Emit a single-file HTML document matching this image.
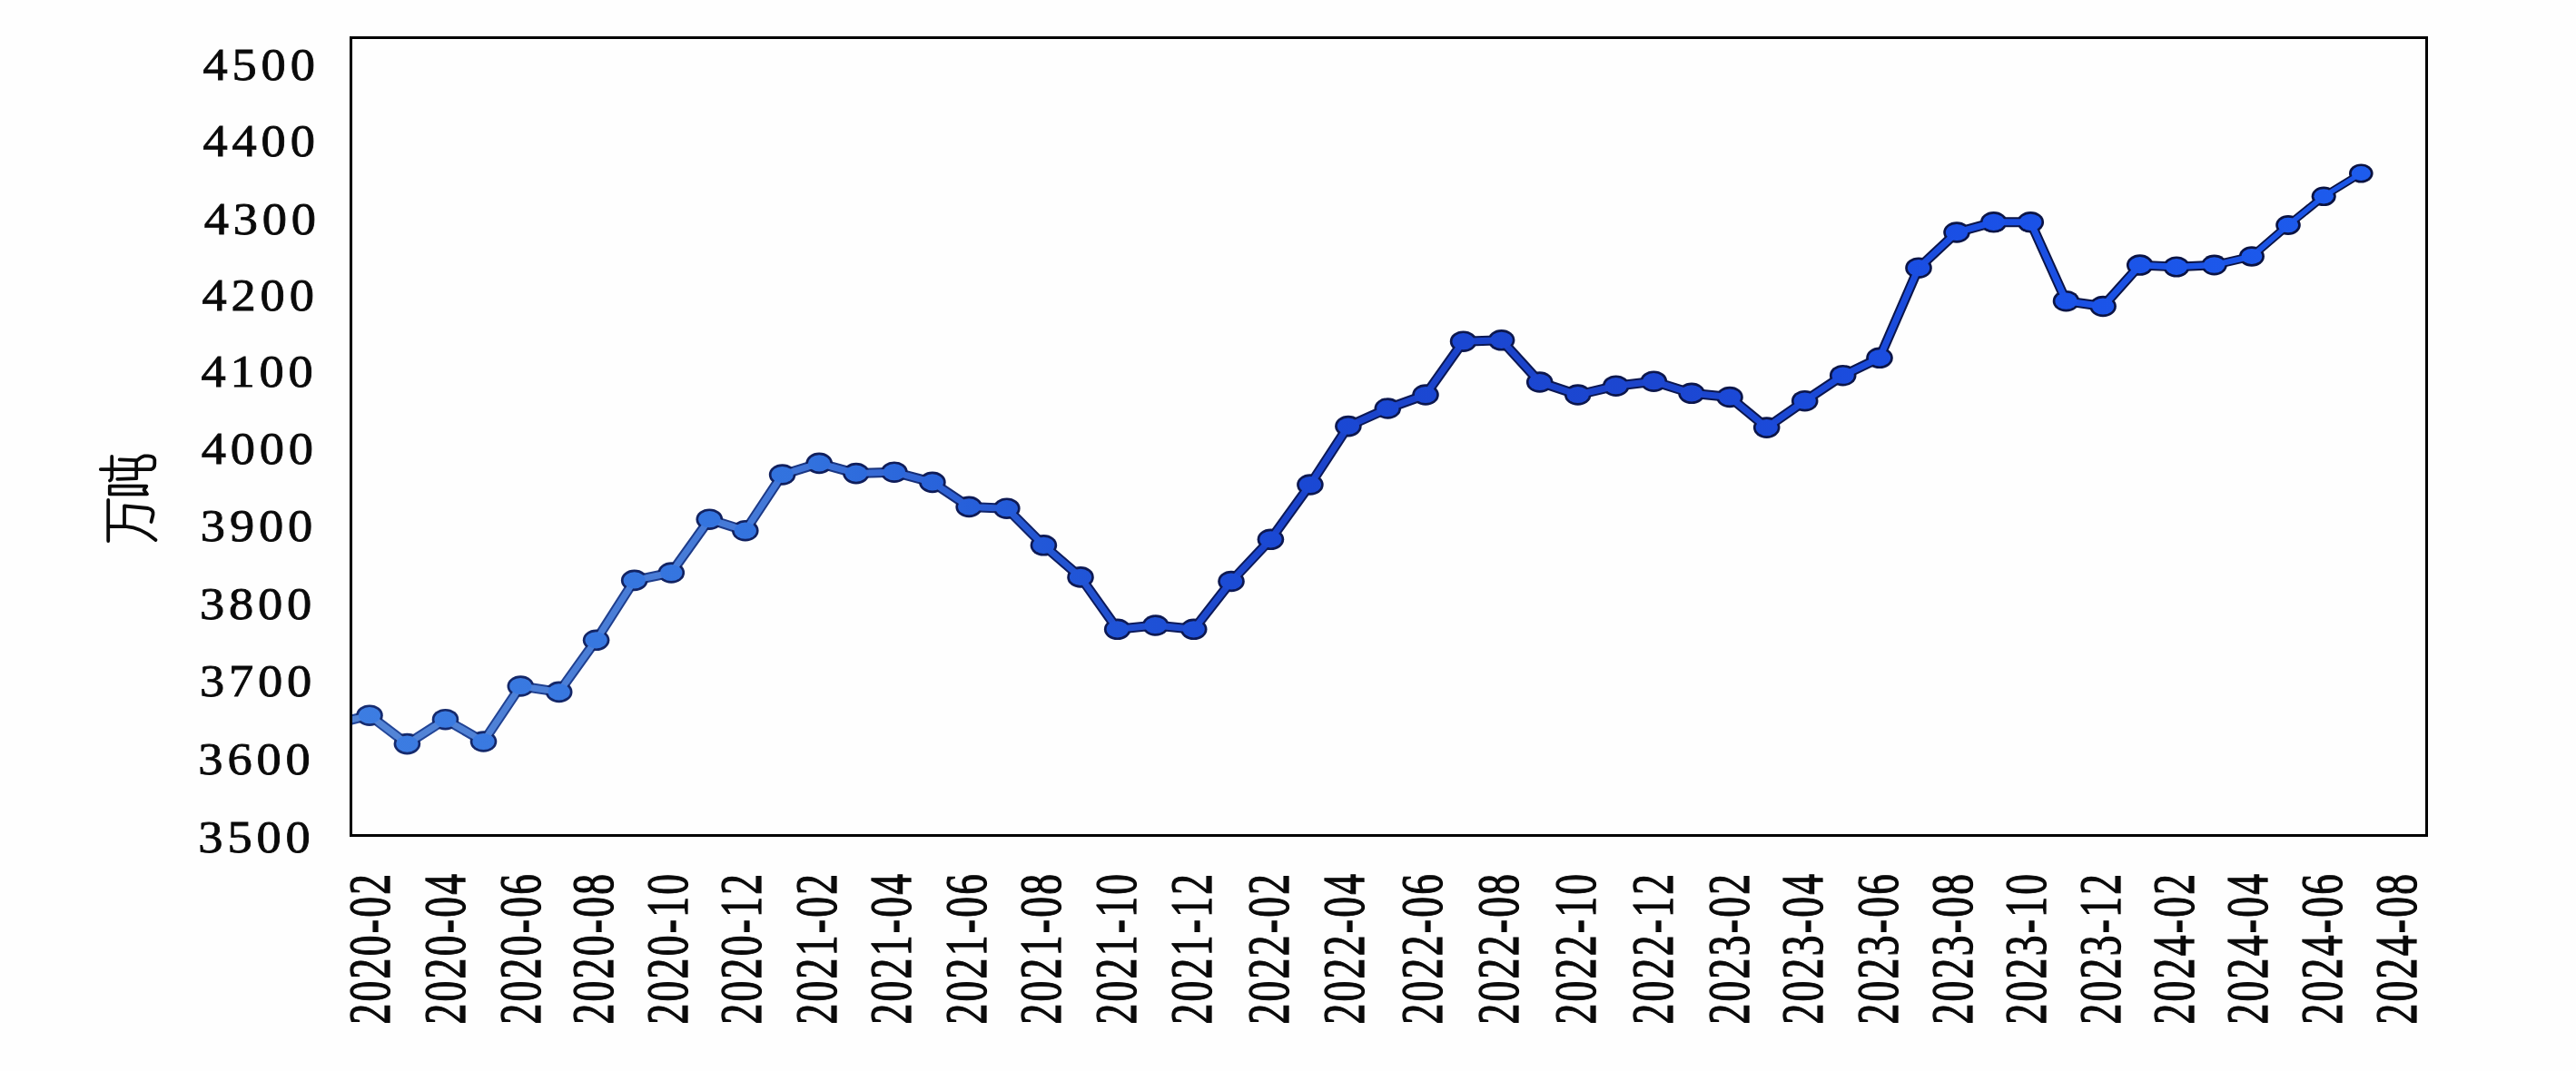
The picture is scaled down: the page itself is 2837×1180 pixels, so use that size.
<!DOCTYPE html>
<html><head><meta charset="utf-8"><style>
html,body{margin:0;padding:0;background:#fefefe;}
body{width:2837px;height:1180px;overflow:hidden;}
svg{display:block;}
text{font-family:"Liberation Serif",serif;fill:#0a0a0a;stroke:#0a0a0a;stroke-width:0.8px;}
</style></head><body>
<svg width="2837" height="1180" viewBox="0 0 2837 1180">
<defs>
<linearGradient id="gf" gradientUnits="userSpaceOnUse" x1="380" y1="0" x2="2680" y2="0">
<stop offset="0" stop-color="#3d7de2"/><stop offset="0.22" stop-color="#3272de"/><stop offset="0.33" stop-color="#2258d8"/><stop offset="0.45" stop-color="#1a48d4"/><stop offset="0.62" stop-color="#1c46d0"/><stop offset="0.78" stop-color="#1a50e6"/><stop offset="1" stop-color="#1e5eee"/>
</linearGradient>
<linearGradient id="gl" gradientUnits="userSpaceOnUse" x1="380" y1="0" x2="2680" y2="0"><stop offset="0" stop-color="#5586d6"/><stop offset="0.2" stop-color="#4479d8"/><stop offset="0.33" stop-color="#2456d2"/><stop offset="0.45" stop-color="#1b44cc"/><stop offset="0.62" stop-color="#1c44ca"/><stop offset="0.78" stop-color="#1a4ee2"/><stop offset="1" stop-color="#1c58e8"/></linearGradient>
<linearGradient id="gd" gradientUnits="userSpaceOnUse" x1="380" y1="0" x2="2680" y2="0"><stop offset="0" stop-color="#24489a"/><stop offset="0.25" stop-color="#1a3580"/><stop offset="0.35" stop-color="#0c1a5c"/><stop offset="1" stop-color="#0a1240"/></linearGradient>
<linearGradient id="gm" gradientUnits="userSpaceOnUse" x1="380" y1="0" x2="2680" y2="0"><stop offset="0" stop-color="#162c70"/><stop offset="0.3" stop-color="#0e1a55"/><stop offset="1" stop-color="#0a1240"/></linearGradient>
<clipPath id="cp"><rect x="387" y="42" width="2285" height="878"/></clipPath>
</defs>
<rect x="0" y="0" width="2837" height="1180" fill="#fefefe"/>

<g clip-path="url(#cp)">
<line x1="366" y1="798" x2="407" y2="788.2" stroke="url(#gd)" stroke-width="11.00" stroke-linecap="round"/>
<line x1="407" y1="788.2" x2="448.4" y2="819.6" stroke="url(#gd)" stroke-width="11.00" stroke-linecap="round"/>
<line x1="448.4" y1="819.6" x2="490.5" y2="792.7" stroke="url(#gd)" stroke-width="11.00" stroke-linecap="round"/>
<line x1="490.5" y1="792.7" x2="532.5" y2="817" stroke="url(#gd)" stroke-width="11.00" stroke-linecap="round"/>
<line x1="532.5" y1="817" x2="573.3" y2="756" stroke="url(#gd)" stroke-width="11.00" stroke-linecap="round"/>
<line x1="573.3" y1="756" x2="615.7" y2="762.4" stroke="url(#gd)" stroke-width="11.00" stroke-linecap="round"/>
<line x1="615.7" y1="762.4" x2="656.6" y2="705.3" stroke="url(#gd)" stroke-width="11.00" stroke-linecap="round"/>
<line x1="656.6" y1="705.3" x2="698.7" y2="639.4" stroke="url(#gd)" stroke-width="11.00" stroke-linecap="round"/>
<line x1="698.7" y1="639.4" x2="739.3" y2="631" stroke="url(#gd)" stroke-width="11.00" stroke-linecap="round"/>
<line x1="739.3" y1="631" x2="781.3" y2="572.2" stroke="url(#gd)" stroke-width="11.00" stroke-linecap="round"/>
<line x1="781.3" y1="572.2" x2="820.8" y2="584.7" stroke="url(#gd)" stroke-width="11.00" stroke-linecap="round"/>
<line x1="820.8" y1="584.7" x2="861.6" y2="523" stroke="url(#gd)" stroke-width="11.00" stroke-linecap="round"/>
<line x1="861.6" y1="523" x2="902.2" y2="510.4" stroke="url(#gd)" stroke-width="11.00" stroke-linecap="round"/>
<line x1="902.2" y1="510.4" x2="942.9" y2="521.6" stroke="url(#gd)" stroke-width="11.00" stroke-linecap="round"/>
<line x1="942.9" y1="521.6" x2="984.9" y2="520.2" stroke="url(#gd)" stroke-width="11.00" stroke-linecap="round"/>
<line x1="984.9" y1="520.2" x2="1026.9" y2="531.4" stroke="url(#gd)" stroke-width="11.00" stroke-linecap="round"/>
<line x1="1026.9" y1="531.4" x2="1067.2" y2="558.4" stroke="url(#gd)" stroke-width="11.00" stroke-linecap="round"/>
<line x1="1067.2" y1="558.4" x2="1108.8" y2="560.2" stroke="url(#gd)" stroke-width="11.00" stroke-linecap="round"/>
<line x1="1108.8" y1="560.2" x2="1149.4" y2="600.8" stroke="url(#gd)" stroke-width="11.00" stroke-linecap="round"/>
<line x1="1149.4" y1="600.8" x2="1190" y2="635.9" stroke="url(#gd)" stroke-width="11.00" stroke-linecap="round"/>
<line x1="1190" y1="635.9" x2="1230.7" y2="693.3" stroke="url(#gd)" stroke-width="11.00" stroke-linecap="round"/>
<line x1="1230.7" y1="693.3" x2="1272.7" y2="689" stroke="url(#gd)" stroke-width="11.00" stroke-linecap="round"/>
<line x1="1272.7" y1="689" x2="1314.7" y2="693.3" stroke="url(#gd)" stroke-width="11.00" stroke-linecap="round"/>
<line x1="1314.7" y1="693.3" x2="1356" y2="640.5" stroke="url(#gd)" stroke-width="11.00" stroke-linecap="round"/>
<line x1="1356" y1="640.5" x2="1399.4" y2="594.3" stroke="url(#gd)" stroke-width="11.00" stroke-linecap="round"/>
<line x1="1399.4" y1="594.3" x2="1442.9" y2="534" stroke="url(#gd)" stroke-width="11.00" stroke-linecap="round"/>
<line x1="1442.9" y1="534" x2="1484.9" y2="469.6" stroke="url(#gd)" stroke-width="11.00" stroke-linecap="round"/>
<line x1="1484.9" y1="469.6" x2="1528.3" y2="450" stroke="url(#gd)" stroke-width="11.00" stroke-linecap="round"/>
<line x1="1528.3" y1="450" x2="1570" y2="435" stroke="url(#gd)" stroke-width="11.00" stroke-linecap="round"/>
<line x1="1570" y1="435" x2="1611.6" y2="376.2" stroke="url(#gd)" stroke-width="11.00" stroke-linecap="round"/>
<line x1="1611.6" y1="376.2" x2="1653.6" y2="374.8" stroke="url(#gd)" stroke-width="11.00" stroke-linecap="round"/>
<line x1="1653.6" y1="374.8" x2="1695.7" y2="421" stroke="url(#gd)" stroke-width="11.00" stroke-linecap="round"/>
<line x1="1695.7" y1="421" x2="1737.7" y2="435" stroke="url(#gd)" stroke-width="11.00" stroke-linecap="round"/>
<line x1="1737.7" y1="435" x2="1779.7" y2="425.2" stroke="url(#gd)" stroke-width="11.00" stroke-linecap="round"/>
<line x1="1779.7" y1="425.2" x2="1821.3" y2="420.2" stroke="url(#gd)" stroke-width="11.00" stroke-linecap="round"/>
<line x1="1821.3" y1="420.2" x2="1863" y2="433.3" stroke="url(#gd)" stroke-width="11.00" stroke-linecap="round"/>
<line x1="1863" y1="433.3" x2="1905" y2="437.5" stroke="url(#gd)" stroke-width="11.00" stroke-linecap="round"/>
<line x1="1905" y1="437.5" x2="1945.7" y2="471.1" stroke="url(#gd)" stroke-width="11.00" stroke-linecap="round"/>
<line x1="1945.7" y1="471.1" x2="1987.7" y2="441.7" stroke="url(#gd)" stroke-width="11.00" stroke-linecap="round"/>
<line x1="1987.7" y1="441.7" x2="2029.7" y2="413.7" stroke="url(#gd)" stroke-width="11.00" stroke-linecap="round"/>
<line x1="2029.7" y1="413.7" x2="2070" y2="394.3" stroke="url(#gd)" stroke-width="11.00" stroke-linecap="round"/>
<line x1="2070" y1="394.3" x2="2113" y2="295.2" stroke="url(#gd)" stroke-width="11.00" stroke-linecap="round"/>
<line x1="2113" y1="295.2" x2="2155" y2="256" stroke="url(#gd)" stroke-width="11.00" stroke-linecap="round"/>
<line x1="2155" y1="256" x2="2195.7" y2="244.8" stroke="url(#gd)" stroke-width="11.00" stroke-linecap="round"/>
<line x1="2195.7" y1="244.8" x2="2236.3" y2="244.8" stroke="url(#gd)" stroke-width="11.00" stroke-linecap="round"/>
<line x1="2236.3" y1="244.8" x2="2275.5" y2="331.7" stroke="url(#gd)" stroke-width="11.00" stroke-linecap="round"/>
<line x1="2275.5" y1="331.7" x2="2316.1" y2="337.5" stroke="url(#gd)" stroke-width="11.00" stroke-linecap="round"/>
<line x1="2316.1" y1="337.5" x2="2356.7" y2="292.1" stroke="url(#gd)" stroke-width="11.00" stroke-linecap="round"/>
<line x1="2356.7" y1="292.1" x2="2397" y2="294" stroke="url(#gd)" stroke-width="10.74" stroke-linecap="round"/>
<line x1="2397" y1="294" x2="2438.6" y2="292" stroke="url(#gd)" stroke-width="10.34" stroke-linecap="round"/>
<line x1="2438.6" y1="292" x2="2479.9" y2="282.5" stroke="url(#gd)" stroke-width="9.94" stroke-linecap="round"/>
<line x1="2479.9" y1="282.5" x2="2520" y2="248" stroke="url(#gd)" stroke-width="9.55" stroke-linecap="round"/>
<line x1="2520" y1="248" x2="2559.2" y2="216.3" stroke="url(#gd)" stroke-width="9.16" stroke-linecap="round"/>
<line x1="2559.2" y1="216.3" x2="2600.3" y2="191" stroke="url(#gd)" stroke-width="8.78" stroke-linecap="round"/>
<ellipse cx="407" cy="788.2" rx="14.80" ry="11.80" fill="url(#gm)"/>
<ellipse cx="448.4" cy="819.6" rx="14.80" ry="11.80" fill="url(#gm)"/>
<ellipse cx="490.5" cy="792.7" rx="14.80" ry="11.80" fill="url(#gm)"/>
<ellipse cx="532.5" cy="817" rx="14.80" ry="11.80" fill="url(#gm)"/>
<ellipse cx="573.3" cy="756" rx="14.80" ry="11.80" fill="url(#gm)"/>
<ellipse cx="615.7" cy="762.4" rx="14.80" ry="11.80" fill="url(#gm)"/>
<ellipse cx="656.6" cy="705.3" rx="14.80" ry="11.80" fill="url(#gm)"/>
<ellipse cx="698.7" cy="639.4" rx="14.80" ry="11.80" fill="url(#gm)"/>
<ellipse cx="739.3" cy="631" rx="14.80" ry="11.80" fill="url(#gm)"/>
<ellipse cx="781.3" cy="572.2" rx="14.80" ry="11.80" fill="url(#gm)"/>
<ellipse cx="820.8" cy="584.7" rx="14.80" ry="11.80" fill="url(#gm)"/>
<ellipse cx="861.6" cy="523" rx="14.80" ry="11.80" fill="url(#gm)"/>
<ellipse cx="902.2" cy="510.4" rx="14.80" ry="11.80" fill="url(#gm)"/>
<ellipse cx="942.9" cy="521.6" rx="14.80" ry="11.80" fill="url(#gm)"/>
<ellipse cx="984.9" cy="520.2" rx="14.80" ry="11.80" fill="url(#gm)"/>
<ellipse cx="1026.9" cy="531.4" rx="14.80" ry="11.80" fill="url(#gm)"/>
<ellipse cx="1067.2" cy="558.4" rx="14.80" ry="11.80" fill="url(#gm)"/>
<ellipse cx="1108.8" cy="560.2" rx="14.80" ry="11.80" fill="url(#gm)"/>
<ellipse cx="1149.4" cy="600.8" rx="14.80" ry="11.80" fill="url(#gm)"/>
<ellipse cx="1190" cy="635.9" rx="14.80" ry="11.80" fill="url(#gm)"/>
<ellipse cx="1230.7" cy="693.3" rx="14.80" ry="11.80" fill="url(#gm)"/>
<ellipse cx="1272.7" cy="689" rx="14.80" ry="11.80" fill="url(#gm)"/>
<ellipse cx="1314.7" cy="693.3" rx="14.80" ry="11.80" fill="url(#gm)"/>
<ellipse cx="1356" cy="640.5" rx="14.80" ry="11.80" fill="url(#gm)"/>
<ellipse cx="1399.4" cy="594.3" rx="14.80" ry="11.80" fill="url(#gm)"/>
<ellipse cx="1442.9" cy="534" rx="14.80" ry="11.80" fill="url(#gm)"/>
<ellipse cx="1484.9" cy="469.6" rx="14.80" ry="11.80" fill="url(#gm)"/>
<ellipse cx="1528.3" cy="450" rx="14.80" ry="11.80" fill="url(#gm)"/>
<ellipse cx="1570" cy="435" rx="14.80" ry="11.80" fill="url(#gm)"/>
<ellipse cx="1611.6" cy="376.2" rx="14.80" ry="11.80" fill="url(#gm)"/>
<ellipse cx="1653.6" cy="374.8" rx="14.80" ry="11.80" fill="url(#gm)"/>
<ellipse cx="1695.7" cy="421" rx="14.80" ry="11.80" fill="url(#gm)"/>
<ellipse cx="1737.7" cy="435" rx="14.80" ry="11.80" fill="url(#gm)"/>
<ellipse cx="1779.7" cy="425.2" rx="14.80" ry="11.80" fill="url(#gm)"/>
<ellipse cx="1821.3" cy="420.2" rx="14.80" ry="11.80" fill="url(#gm)"/>
<ellipse cx="1863" cy="433.3" rx="14.80" ry="11.80" fill="url(#gm)"/>
<ellipse cx="1905" cy="437.5" rx="14.80" ry="11.80" fill="url(#gm)"/>
<ellipse cx="1945.7" cy="471.1" rx="14.80" ry="11.80" fill="url(#gm)"/>
<ellipse cx="1987.7" cy="441.7" rx="14.80" ry="11.80" fill="url(#gm)"/>
<ellipse cx="2029.7" cy="413.7" rx="14.80" ry="11.80" fill="url(#gm)"/>
<ellipse cx="2070" cy="394.3" rx="14.80" ry="11.80" fill="url(#gm)"/>
<ellipse cx="2113" cy="295.2" rx="14.80" ry="11.80" fill="url(#gm)"/>
<ellipse cx="2155" cy="256" rx="14.80" ry="11.80" fill="url(#gm)"/>
<ellipse cx="2195.7" cy="244.8" rx="14.80" ry="11.80" fill="url(#gm)"/>
<ellipse cx="2236.3" cy="244.8" rx="14.80" ry="11.80" fill="url(#gm)"/>
<ellipse cx="2275.5" cy="331.7" rx="14.80" ry="11.80" fill="url(#gm)"/>
<ellipse cx="2316.1" cy="337.5" rx="14.80" ry="11.80" fill="url(#gm)"/>
<ellipse cx="2356.7" cy="292.1" rx="14.76" ry="11.77" fill="url(#gm)"/>
<ellipse cx="2397" cy="294" rx="14.52" ry="11.58" fill="url(#gm)"/>
<ellipse cx="2438.6" cy="292" rx="14.28" ry="11.38" fill="url(#gm)"/>
<ellipse cx="2479.9" cy="282.5" rx="14.03" ry="11.19" fill="url(#gm)"/>
<ellipse cx="2520" cy="248" rx="13.79" ry="11.00" fill="url(#gm)"/>
<ellipse cx="2559.2" cy="216.3" rx="13.56" ry="10.81" fill="url(#gm)"/>
<ellipse cx="2600.3" cy="191" rx="13.32" ry="10.62" fill="url(#gm)"/>
<line x1="366" y1="798" x2="407" y2="788.2" stroke="url(#gl)" stroke-width="7.00" stroke-linecap="round"/>
<line x1="407" y1="788.2" x2="448.4" y2="819.6" stroke="url(#gl)" stroke-width="7.00" stroke-linecap="round"/>
<line x1="448.4" y1="819.6" x2="490.5" y2="792.7" stroke="url(#gl)" stroke-width="7.00" stroke-linecap="round"/>
<line x1="490.5" y1="792.7" x2="532.5" y2="817" stroke="url(#gl)" stroke-width="7.00" stroke-linecap="round"/>
<line x1="532.5" y1="817" x2="573.3" y2="756" stroke="url(#gl)" stroke-width="7.00" stroke-linecap="round"/>
<line x1="573.3" y1="756" x2="615.7" y2="762.4" stroke="url(#gl)" stroke-width="7.00" stroke-linecap="round"/>
<line x1="615.7" y1="762.4" x2="656.6" y2="705.3" stroke="url(#gl)" stroke-width="7.00" stroke-linecap="round"/>
<line x1="656.6" y1="705.3" x2="698.7" y2="639.4" stroke="url(#gl)" stroke-width="7.00" stroke-linecap="round"/>
<line x1="698.7" y1="639.4" x2="739.3" y2="631" stroke="url(#gl)" stroke-width="7.00" stroke-linecap="round"/>
<line x1="739.3" y1="631" x2="781.3" y2="572.2" stroke="url(#gl)" stroke-width="7.00" stroke-linecap="round"/>
<line x1="781.3" y1="572.2" x2="820.8" y2="584.7" stroke="url(#gl)" stroke-width="7.00" stroke-linecap="round"/>
<line x1="820.8" y1="584.7" x2="861.6" y2="523" stroke="url(#gl)" stroke-width="7.00" stroke-linecap="round"/>
<line x1="861.6" y1="523" x2="902.2" y2="510.4" stroke="url(#gl)" stroke-width="7.00" stroke-linecap="round"/>
<line x1="902.2" y1="510.4" x2="942.9" y2="521.6" stroke="url(#gl)" stroke-width="7.00" stroke-linecap="round"/>
<line x1="942.9" y1="521.6" x2="984.9" y2="520.2" stroke="url(#gl)" stroke-width="7.00" stroke-linecap="round"/>
<line x1="984.9" y1="520.2" x2="1026.9" y2="531.4" stroke="url(#gl)" stroke-width="7.00" stroke-linecap="round"/>
<line x1="1026.9" y1="531.4" x2="1067.2" y2="558.4" stroke="url(#gl)" stroke-width="7.00" stroke-linecap="round"/>
<line x1="1067.2" y1="558.4" x2="1108.8" y2="560.2" stroke="url(#gl)" stroke-width="7.00" stroke-linecap="round"/>
<line x1="1108.8" y1="560.2" x2="1149.4" y2="600.8" stroke="url(#gl)" stroke-width="7.00" stroke-linecap="round"/>
<line x1="1149.4" y1="600.8" x2="1190" y2="635.9" stroke="url(#gl)" stroke-width="7.00" stroke-linecap="round"/>
<line x1="1190" y1="635.9" x2="1230.7" y2="693.3" stroke="url(#gl)" stroke-width="7.00" stroke-linecap="round"/>
<line x1="1230.7" y1="693.3" x2="1272.7" y2="689" stroke="url(#gl)" stroke-width="7.00" stroke-linecap="round"/>
<line x1="1272.7" y1="689" x2="1314.7" y2="693.3" stroke="url(#gl)" stroke-width="7.00" stroke-linecap="round"/>
<line x1="1314.7" y1="693.3" x2="1356" y2="640.5" stroke="url(#gl)" stroke-width="7.00" stroke-linecap="round"/>
<line x1="1356" y1="640.5" x2="1399.4" y2="594.3" stroke="url(#gl)" stroke-width="7.00" stroke-linecap="round"/>
<line x1="1399.4" y1="594.3" x2="1442.9" y2="534" stroke="url(#gl)" stroke-width="7.00" stroke-linecap="round"/>
<line x1="1442.9" y1="534" x2="1484.9" y2="469.6" stroke="url(#gl)" stroke-width="7.00" stroke-linecap="round"/>
<line x1="1484.9" y1="469.6" x2="1528.3" y2="450" stroke="url(#gl)" stroke-width="7.00" stroke-linecap="round"/>
<line x1="1528.3" y1="450" x2="1570" y2="435" stroke="url(#gl)" stroke-width="7.00" stroke-linecap="round"/>
<line x1="1570" y1="435" x2="1611.6" y2="376.2" stroke="url(#gl)" stroke-width="7.00" stroke-linecap="round"/>
<line x1="1611.6" y1="376.2" x2="1653.6" y2="374.8" stroke="url(#gl)" stroke-width="7.00" stroke-linecap="round"/>
<line x1="1653.6" y1="374.8" x2="1695.7" y2="421" stroke="url(#gl)" stroke-width="7.00" stroke-linecap="round"/>
<line x1="1695.7" y1="421" x2="1737.7" y2="435" stroke="url(#gl)" stroke-width="7.00" stroke-linecap="round"/>
<line x1="1737.7" y1="435" x2="1779.7" y2="425.2" stroke="url(#gl)" stroke-width="7.00" stroke-linecap="round"/>
<line x1="1779.7" y1="425.2" x2="1821.3" y2="420.2" stroke="url(#gl)" stroke-width="7.00" stroke-linecap="round"/>
<line x1="1821.3" y1="420.2" x2="1863" y2="433.3" stroke="url(#gl)" stroke-width="7.00" stroke-linecap="round"/>
<line x1="1863" y1="433.3" x2="1905" y2="437.5" stroke="url(#gl)" stroke-width="7.00" stroke-linecap="round"/>
<line x1="1905" y1="437.5" x2="1945.7" y2="471.1" stroke="url(#gl)" stroke-width="7.00" stroke-linecap="round"/>
<line x1="1945.7" y1="471.1" x2="1987.7" y2="441.7" stroke="url(#gl)" stroke-width="7.00" stroke-linecap="round"/>
<line x1="1987.7" y1="441.7" x2="2029.7" y2="413.7" stroke="url(#gl)" stroke-width="7.00" stroke-linecap="round"/>
<line x1="2029.7" y1="413.7" x2="2070" y2="394.3" stroke="url(#gl)" stroke-width="7.00" stroke-linecap="round"/>
<line x1="2070" y1="394.3" x2="2113" y2="295.2" stroke="url(#gl)" stroke-width="7.00" stroke-linecap="round"/>
<line x1="2113" y1="295.2" x2="2155" y2="256" stroke="url(#gl)" stroke-width="7.00" stroke-linecap="round"/>
<line x1="2155" y1="256" x2="2195.7" y2="244.8" stroke="url(#gl)" stroke-width="7.00" stroke-linecap="round"/>
<line x1="2195.7" y1="244.8" x2="2236.3" y2="244.8" stroke="url(#gl)" stroke-width="7.00" stroke-linecap="round"/>
<line x1="2236.3" y1="244.8" x2="2275.5" y2="331.7" stroke="url(#gl)" stroke-width="7.00" stroke-linecap="round"/>
<line x1="2275.5" y1="331.7" x2="2316.1" y2="337.5" stroke="url(#gl)" stroke-width="7.00" stroke-linecap="round"/>
<line x1="2316.1" y1="337.5" x2="2356.7" y2="292.1" stroke="url(#gl)" stroke-width="7.00" stroke-linecap="round"/>
<line x1="2356.7" y1="292.1" x2="2397" y2="294" stroke="url(#gl)" stroke-width="6.79" stroke-linecap="round"/>
<line x1="2397" y1="294" x2="2438.6" y2="292" stroke="url(#gl)" stroke-width="6.46" stroke-linecap="round"/>
<line x1="2438.6" y1="292" x2="2479.9" y2="282.5" stroke="url(#gl)" stroke-width="6.13" stroke-linecap="round"/>
<line x1="2479.9" y1="282.5" x2="2520" y2="248" stroke="url(#gl)" stroke-width="5.81" stroke-linecap="round"/>
<line x1="2520" y1="248" x2="2559.2" y2="216.3" stroke="url(#gl)" stroke-width="5.50" stroke-linecap="round"/>
<line x1="2559.2" y1="216.3" x2="2600.3" y2="191" stroke="url(#gl)" stroke-width="5.18" stroke-linecap="round"/>
<ellipse cx="407" cy="788.2" rx="12.10" ry="9.10" fill="url(#gf)"/>
<ellipse cx="448.4" cy="819.6" rx="12.10" ry="9.10" fill="url(#gf)"/>
<ellipse cx="490.5" cy="792.7" rx="12.10" ry="9.10" fill="url(#gf)"/>
<ellipse cx="532.5" cy="817" rx="12.10" ry="9.10" fill="url(#gf)"/>
<ellipse cx="573.3" cy="756" rx="12.10" ry="9.10" fill="url(#gf)"/>
<ellipse cx="615.7" cy="762.4" rx="12.10" ry="9.10" fill="url(#gf)"/>
<ellipse cx="656.6" cy="705.3" rx="12.10" ry="9.10" fill="url(#gf)"/>
<ellipse cx="698.7" cy="639.4" rx="12.10" ry="9.10" fill="url(#gf)"/>
<ellipse cx="739.3" cy="631" rx="12.10" ry="9.10" fill="url(#gf)"/>
<ellipse cx="781.3" cy="572.2" rx="12.10" ry="9.10" fill="url(#gf)"/>
<ellipse cx="820.8" cy="584.7" rx="12.10" ry="9.10" fill="url(#gf)"/>
<ellipse cx="861.6" cy="523" rx="12.10" ry="9.10" fill="url(#gf)"/>
<ellipse cx="902.2" cy="510.4" rx="12.10" ry="9.10" fill="url(#gf)"/>
<ellipse cx="942.9" cy="521.6" rx="12.10" ry="9.10" fill="url(#gf)"/>
<ellipse cx="984.9" cy="520.2" rx="12.10" ry="9.10" fill="url(#gf)"/>
<ellipse cx="1026.9" cy="531.4" rx="12.10" ry="9.10" fill="url(#gf)"/>
<ellipse cx="1067.2" cy="558.4" rx="12.10" ry="9.10" fill="url(#gf)"/>
<ellipse cx="1108.8" cy="560.2" rx="12.10" ry="9.10" fill="url(#gf)"/>
<ellipse cx="1149.4" cy="600.8" rx="12.10" ry="9.10" fill="url(#gf)"/>
<ellipse cx="1190" cy="635.9" rx="12.10" ry="9.10" fill="url(#gf)"/>
<ellipse cx="1230.7" cy="693.3" rx="12.10" ry="9.10" fill="url(#gf)"/>
<ellipse cx="1272.7" cy="689" rx="12.10" ry="9.10" fill="url(#gf)"/>
<ellipse cx="1314.7" cy="693.3" rx="12.10" ry="9.10" fill="url(#gf)"/>
<ellipse cx="1356" cy="640.5" rx="12.10" ry="9.10" fill="url(#gf)"/>
<ellipse cx="1399.4" cy="594.3" rx="12.10" ry="9.10" fill="url(#gf)"/>
<ellipse cx="1442.9" cy="534" rx="12.10" ry="9.10" fill="url(#gf)"/>
<ellipse cx="1484.9" cy="469.6" rx="12.10" ry="9.10" fill="url(#gf)"/>
<ellipse cx="1528.3" cy="450" rx="12.10" ry="9.10" fill="url(#gf)"/>
<ellipse cx="1570" cy="435" rx="12.10" ry="9.10" fill="url(#gf)"/>
<ellipse cx="1611.6" cy="376.2" rx="12.10" ry="9.10" fill="url(#gf)"/>
<ellipse cx="1653.6" cy="374.8" rx="12.10" ry="9.10" fill="url(#gf)"/>
<ellipse cx="1695.7" cy="421" rx="12.10" ry="9.10" fill="url(#gf)"/>
<ellipse cx="1737.7" cy="435" rx="12.10" ry="9.10" fill="url(#gf)"/>
<ellipse cx="1779.7" cy="425.2" rx="12.10" ry="9.10" fill="url(#gf)"/>
<ellipse cx="1821.3" cy="420.2" rx="12.10" ry="9.10" fill="url(#gf)"/>
<ellipse cx="1863" cy="433.3" rx="12.10" ry="9.10" fill="url(#gf)"/>
<ellipse cx="1905" cy="437.5" rx="12.10" ry="9.10" fill="url(#gf)"/>
<ellipse cx="1945.7" cy="471.1" rx="12.10" ry="9.10" fill="url(#gf)"/>
<ellipse cx="1987.7" cy="441.7" rx="12.10" ry="9.10" fill="url(#gf)"/>
<ellipse cx="2029.7" cy="413.7" rx="12.10" ry="9.10" fill="url(#gf)"/>
<ellipse cx="2070" cy="394.3" rx="12.10" ry="9.10" fill="url(#gf)"/>
<ellipse cx="2113" cy="295.2" rx="12.10" ry="9.10" fill="url(#gf)"/>
<ellipse cx="2155" cy="256" rx="12.10" ry="9.10" fill="url(#gf)"/>
<ellipse cx="2195.7" cy="244.8" rx="12.10" ry="9.10" fill="url(#gf)"/>
<ellipse cx="2236.3" cy="244.8" rx="12.10" ry="9.10" fill="url(#gf)"/>
<ellipse cx="2275.5" cy="331.7" rx="12.10" ry="9.10" fill="url(#gf)"/>
<ellipse cx="2316.1" cy="337.5" rx="12.10" ry="9.10" fill="url(#gf)"/>
<ellipse cx="2356.7" cy="292.1" rx="12.06" ry="9.07" fill="url(#gf)"/>
<ellipse cx="2397" cy="294" rx="11.82" ry="8.88" fill="url(#gf)"/>
<ellipse cx="2438.6" cy="292" rx="11.58" ry="8.68" fill="url(#gf)"/>
<ellipse cx="2479.9" cy="282.5" rx="11.33" ry="8.49" fill="url(#gf)"/>
<ellipse cx="2520" cy="248" rx="11.09" ry="8.30" fill="url(#gf)"/>
<ellipse cx="2559.2" cy="216.3" rx="10.86" ry="8.11" fill="url(#gf)"/>
<ellipse cx="2600.3" cy="191" rx="10.62" ry="7.92" fill="url(#gf)"/>
</g>
<rect x="386.5" y="41.5" width="2286" height="879" fill="none" stroke="#000" stroke-width="3"/>
<text transform="translate(346.5,921.8) scale(1.09,1)" y="17" text-anchor="end" font-size="50" letter-spacing="4.4">3500</text>
<text transform="translate(346.5,835.7) scale(1.09,1)" y="17" text-anchor="end" font-size="50" letter-spacing="4.4">3600</text>
<text transform="translate(348.1,750.0) scale(1.09,1)" y="17" text-anchor="end" font-size="50" letter-spacing="4.4">3700</text>
<text transform="translate(348.1,665.1) scale(1.09,1)" y="17" text-anchor="end" font-size="50" letter-spacing="4.4">3800</text>
<text transform="translate(349.0,579.2) scale(1.09,1)" y="17" text-anchor="end" font-size="50" letter-spacing="4.4">3900</text>
<text transform="translate(349.8,494.0) scale(1.09,1)" y="17" text-anchor="end" font-size="50" letter-spacing="4.4">4000</text>
<text transform="translate(349.6,409.2) scale(1.09,1)" y="17" text-anchor="end" font-size="50" letter-spacing="4.4">4100</text>
<text transform="translate(350.7,324.6) scale(1.09,1)" y="17" text-anchor="end" font-size="50" letter-spacing="4.4">4200</text>
<text transform="translate(352.9,240.5) scale(1.09,1)" y="17" text-anchor="end" font-size="50" letter-spacing="4.4">4300</text>
<text transform="translate(351.7,155.0) scale(1.09,1)" y="17" text-anchor="end" font-size="50" letter-spacing="4.4">4400</text>
<text transform="translate(351.7,71.0) scale(1.09,1)" y="17" text-anchor="end" font-size="50" letter-spacing="4.4">4500</text>
<text transform="translate(406.8,1044.6) scale(1.3,1) rotate(-90) scale(0.9,1)" y="17" text-anchor="middle" font-size="50.5" letter-spacing="2.6" style="stroke-width:1.0px">2020-02</text>
<text transform="translate(490.0,1044.6) scale(1.3,1) rotate(-90) scale(0.9,1)" y="17" text-anchor="middle" font-size="50.5" letter-spacing="2.6" style="stroke-width:1.0px">2020-04</text>
<text transform="translate(572.5,1044.6) scale(1.3,1) rotate(-90) scale(0.9,1)" y="17" text-anchor="middle" font-size="50.5" letter-spacing="2.6" style="stroke-width:1.0px">2020-06</text>
<text transform="translate(653.0,1044.6) scale(1.3,1) rotate(-90) scale(0.9,1)" y="17" text-anchor="middle" font-size="50.5" letter-spacing="2.6" style="stroke-width:1.0px">2020-08</text>
<text transform="translate(735.0,1044.6) scale(1.3,1) rotate(-90) scale(0.9,1)" y="17" text-anchor="middle" font-size="50.5" letter-spacing="2.6" style="stroke-width:1.0px">2020-10</text>
<text transform="translate(816.0,1044.6) scale(1.3,1) rotate(-90) scale(0.9,1)" y="17" text-anchor="middle" font-size="50.5" letter-spacing="2.6" style="stroke-width:1.0px">2020-12</text>
<text transform="translate(899.0,1044.6) scale(1.3,1) rotate(-90) scale(0.9,1)" y="17" text-anchor="middle" font-size="50.5" letter-spacing="2.6" style="stroke-width:1.0px">2021-02</text>
<text transform="translate(981.0,1044.6) scale(1.3,1) rotate(-90) scale(0.9,1)" y="17" text-anchor="middle" font-size="50.5" letter-spacing="2.6" style="stroke-width:1.0px">2021-04</text>
<text transform="translate(1064.0,1044.6) scale(1.3,1) rotate(-90) scale(0.9,1)" y="17" text-anchor="middle" font-size="50.5" letter-spacing="2.6" style="stroke-width:1.0px">2021-06</text>
<text transform="translate(1146.0,1044.6) scale(1.3,1) rotate(-90) scale(0.9,1)" y="17" text-anchor="middle" font-size="50.5" letter-spacing="2.6" style="stroke-width:1.0px">2021-08</text>
<text transform="translate(1229.0,1044.6) scale(1.3,1) rotate(-90) scale(0.9,1)" y="17" text-anchor="middle" font-size="50.5" letter-spacing="2.6" style="stroke-width:1.0px">2021-10</text>
<text transform="translate(1312.0,1044.6) scale(1.3,1) rotate(-90) scale(0.9,1)" y="17" text-anchor="middle" font-size="50.5" letter-spacing="2.6" style="stroke-width:1.0px">2021-12</text>
<text transform="translate(1397.0,1044.6) scale(1.3,1) rotate(-90) scale(0.9,1)" y="17" text-anchor="middle" font-size="50.5" letter-spacing="2.6" style="stroke-width:1.0px">2022-02</text>
<text transform="translate(1480.0,1044.6) scale(1.3,1) rotate(-90) scale(0.9,1)" y="17" text-anchor="middle" font-size="50.5" letter-spacing="2.6" style="stroke-width:1.0px">2022-04</text>
<text transform="translate(1566.0,1044.6) scale(1.3,1) rotate(-90) scale(0.9,1)" y="17" text-anchor="middle" font-size="50.5" letter-spacing="2.6" style="stroke-width:1.0px">2022-06</text>
<text transform="translate(1650.0,1044.6) scale(1.3,1) rotate(-90) scale(0.9,1)" y="17" text-anchor="middle" font-size="50.5" letter-spacing="2.6" style="stroke-width:1.0px">2022-08</text>
<text transform="translate(1735.0,1044.6) scale(1.3,1) rotate(-90) scale(0.9,1)" y="17" text-anchor="middle" font-size="50.5" letter-spacing="2.6" style="stroke-width:1.0px">2022-10</text>
<text transform="translate(1820.0,1044.6) scale(1.3,1) rotate(-90) scale(0.9,1)" y="17" text-anchor="middle" font-size="50.5" letter-spacing="2.6" style="stroke-width:1.0px">2022-12</text>
<text transform="translate(1904.0,1044.6) scale(1.3,1) rotate(-90) scale(0.9,1)" y="17" text-anchor="middle" font-size="50.5" letter-spacing="2.6" style="stroke-width:1.0px">2023-02</text>
<text transform="translate(1985.0,1044.6) scale(1.3,1) rotate(-90) scale(0.9,1)" y="17" text-anchor="middle" font-size="50.5" letter-spacing="2.6" style="stroke-width:1.0px">2023-04</text>
<text transform="translate(2068.0,1044.6) scale(1.3,1) rotate(-90) scale(0.9,1)" y="17" text-anchor="middle" font-size="50.5" letter-spacing="2.6" style="stroke-width:1.0px">2023-06</text>
<text transform="translate(2150.0,1044.6) scale(1.3,1) rotate(-90) scale(0.9,1)" y="17" text-anchor="middle" font-size="50.5" letter-spacing="2.6" style="stroke-width:1.0px">2023-08</text>
<text transform="translate(2231.0,1044.6) scale(1.3,1) rotate(-90) scale(0.9,1)" y="17" text-anchor="middle" font-size="50.5" letter-spacing="2.6" style="stroke-width:1.0px">2023-10</text>
<text transform="translate(2312.8,1044.6) scale(1.3,1) rotate(-90) scale(0.9,1)" y="17" text-anchor="middle" font-size="50.5" letter-spacing="2.6" style="stroke-width:1.0px">2023-12</text>
<text transform="translate(2394.0,1044.6) scale(1.3,1) rotate(-90) scale(0.9,1)" y="17" text-anchor="middle" font-size="50.5" letter-spacing="2.6" style="stroke-width:1.0px">2024-02</text>
<text transform="translate(2475.0,1044.6) scale(1.3,1) rotate(-90) scale(0.9,1)" y="17" text-anchor="middle" font-size="50.5" letter-spacing="2.6" style="stroke-width:1.0px">2024-04</text>
<text transform="translate(2557.0,1044.6) scale(1.3,1) rotate(-90) scale(0.9,1)" y="17" text-anchor="middle" font-size="50.5" letter-spacing="2.6" style="stroke-width:1.0px">2024-06</text>
<text transform="translate(2639.0,1044.6) scale(1.3,1) rotate(-90) scale(0.9,1)" y="17" text-anchor="middle" font-size="50.5" letter-spacing="2.6" style="stroke-width:1.0px">2024-08</text>
<g fill="none" stroke="#0a0a0a" stroke-width="3.8" stroke-linecap="round" stroke-linejoin="round">
<path d="M119.2,551 L119.2,596"/>
<path d="M120.2,580 L139,580.2 Q155,581 171.5,595"/>
<path d="M137,579 L137,557.5 L163,560 Q169.5,561.5 168.5,567 L166.5,575"/>
<path d="M123.2,503 L123.2,525 Q123,529 121,529.5"/>
<path d="M110.8,517.1 L166.5,517.1 Q170.3,516 170.3,511 L170.3,506.5 Q169.5,502.5 163,502.3 L159,502.3 Q155.5,503 151.5,507"/>
<path d="M131.7,506.3 L150.2,507.2 L150.2,527.2 L129.3,527.8"/>
<path d="M120.8,535.6 L161.3,535.6 L158.5,539.8 L162,544.3 L120.8,544.3 Z"/>
</g>
</svg></body></html>
